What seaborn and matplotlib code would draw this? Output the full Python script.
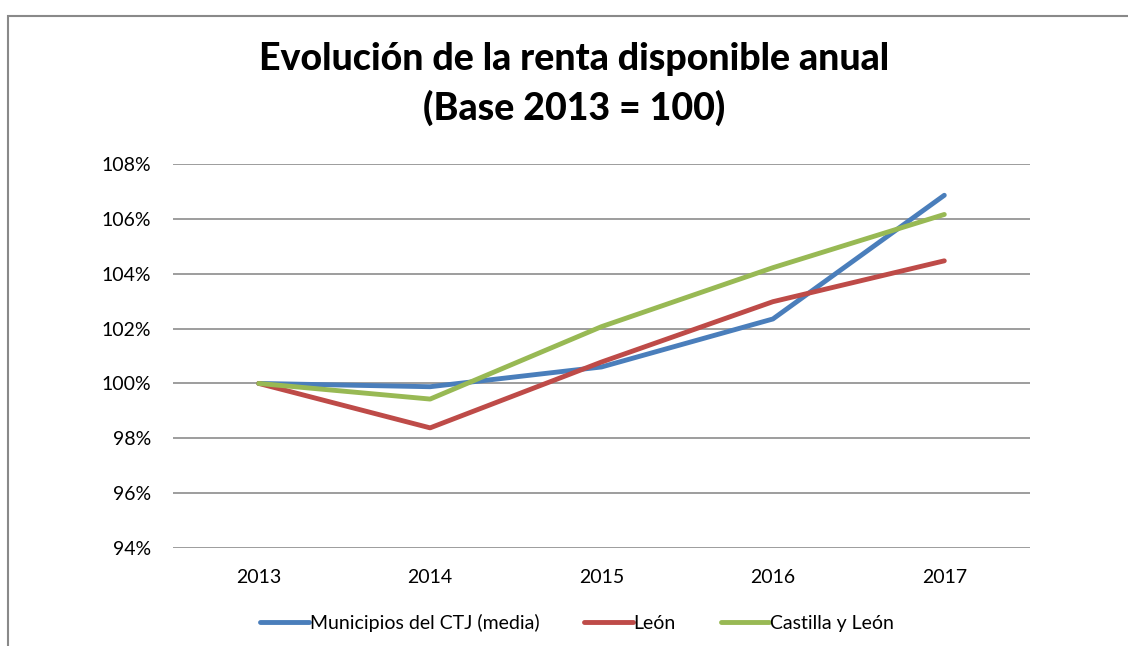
import pandas as pd
import matplotlib.pyplot as plt
import seaborn as sns
from matplotlib.patches import Rectangle
from matplotlib.ticker import FuncFormatter

years = [2013, 2014, 2015, 2016, 2017]
ctj = [100.0, 99.88, 100.6, 102.35, 106.86]
leon = [100.0, 98.38, 100.78, 102.98, 104.47]
cyl = [100.0, 99.43, 102.07, 104.22, 106.16]
series_names = ["Municipios del CTJ (media)", "León", "Castilla y León"]
colors = ["#4a7ebb", "#be4b48", "#98b954"]

df = pd.DataFrame({"Año": years, series_names[0]: ctj, series_names[1]: leon, series_names[2]: cyl})
long_df = df.melt(id_vars="Año", var_name="Serie", value_name="Valor")
long_df["Año"] = long_df["Año"].astype(str)

sns.set_style("white")
plt.rcParams["font.family"] = ["Lato", "DejaVu Sans"]
plt.rcParams["text.color"] = "black"

fig = plt.figure(figsize=(11.28, 6.46), dpi=100)
ax = fig.add_axes([173/1128, 1 - 548/646, (1030 - 173)/1128, (548 - 164)/646])

sns.lineplot(data=long_df, x="Año", y="Valor", hue="Serie", palette=colors,
             linewidth=3.5, ax=ax, legend=False, sort=False)

ax.set_ylim(94, 108)
ax.set_yticks(range(94, 109, 2))
ax.yaxis.set_major_formatter(FuncFormatter(lambda v, p: f"{v:.0f}%"))
ax.set_xlim(-0.5, 4.5)
ax.grid(axis="y", color="#8c8c8c", linewidth=1.2)
ax.set_axisbelow(True)
for s in ax.spines.values():
    s.set_visible(False)
ax.tick_params(axis="both", length=0, labelsize=14, colors="black")
ax.tick_params(axis="x", pad=15)
ax.tick_params(axis="y", pad=16)
ax.set_xlabel("")
ax.set_ylabel("")

fig.text(0.509, 1 - 59/646, "Evolución de la renta disponible anual", ha="center", va="center",
         fontsize=27, fontweight="black", color="black")
fig.text(0.509, 1 - 108/646, "(Base 2013 = 100)", ha="center", va="center",
         fontsize=27, fontweight="black", color="black")

handles = [plt.Line2D([], [], color=c, linewidth=3.5) for c in colors]
fig.legend(handles, series_names, loc="center", bbox_to_anchor=(577/1128, 1 - 623/646),
           ncol=3, frameon=False, fontsize=14, handlelength=2.5, handletextpad=0.05,
           columnspacing=2.3)

frame = Rectangle((8/1128, -0.1), 1.2, 1.1 - 16/646, transform=fig.transFigure,
                  fill=False, edgecolor="#898989", linewidth=1.5)
fig.patches.append(frame)

fig.savefig("out.png", dpi=100)
